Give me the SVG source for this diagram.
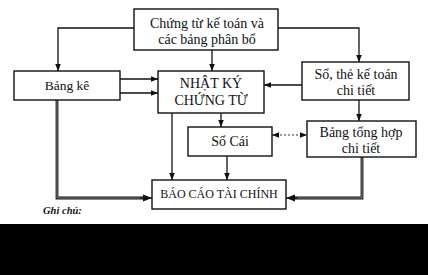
<svg xmlns="http://www.w3.org/2000/svg" width="428" height="275" viewBox="0 0 428 275">
<style>
.box{fill:#fff;stroke:#111;stroke-width:1.4}
.t{font-family:"Liberation Serif","Times New Roman","DejaVu Serif",serif;fill:#111;text-anchor:middle}
.ln{fill:none;stroke:#111;stroke-width:1.3}
.dbl{fill:none;stroke:#111;stroke-width:2.8}
.dbli{fill:none;stroke:#fff;stroke-width:0.5}
.dot{fill:none;stroke:#333;stroke-width:1;stroke-dasharray:2 2}
</style>
<defs>
<marker id="ah" viewBox="0 0 10 10" refX="10" refY="5" markerWidth="7" markerHeight="7" orient="auto-start-reverse" markerUnits="userSpaceOnUse">
<path d="M0,1 L10,5 L0,9 z" fill="#111"/>
</marker>
<marker id="ah2" viewBox="0 0 10 10" refX="10" refY="5" markerWidth="9" markerHeight="9" orient="auto" markerUnits="userSpaceOnUse">
<path d="M0,1 L10,5 L0,9 z" fill="#111"/>
</marker>
</defs>
<rect width="428" height="275" fill="#fff"/>
<g id="connectors">
<polyline class="ln" points="134,28 58,28 58,71" marker-end="url(#ah)"/>
<polyline class="ln" points="278,28 359,28 359,62" marker-end="url(#ah)"/>
<line class="ln" x1="212" y1="50" x2="212" y2="71" marker-end="url(#ah)"/>
<line class="ln" x1="120" y1="79" x2="158" y2="79" marker-end="url(#ah)"/>
<line class="ln" x1="120" y1="93" x2="158" y2="93" stroke-width="1.8" marker-end="url(#ah)"/>
<line class="ln" x1="302" y1="85" x2="264" y2="85" marker-end="url(#ah)"/>
<line class="ln" x1="359" y1="100" x2="359" y2="121" marker-end="url(#ah)"/>
<line class="ln" x1="221" y1="113" x2="221" y2="127" marker-end="url(#ah)"/>
<line class="dot" x1="272" y1="135" x2="307" y2="135" marker-start="url(#ah)" marker-end="url(#ah)"/>
<line class="ln" x1="227" y1="156" x2="227" y2="180" marker-end="url(#ah)"/>
<line class="ln" x1="172" y1="113" x2="172" y2="180" stroke-width="1.8" marker-end="url(#ah)"/>
<polyline class="dbl" points="57,100 57,198 144,198"/>
<polyline class="dbli" points="57,100 57,198 144,198"/>
<line class="ln" x1="140" y1="198" x2="152" y2="198" stroke-width="2" marker-end="url(#ah2)"/>
<polyline class="dbl" points="362,157 362,198 294,198"/>
<polyline class="dbli" points="362,157 362,198 294,198"/>
<line class="ln" x1="298" y1="198" x2="286" y2="198" stroke-width="2" marker-end="url(#ah2)"/>
</g>
<g id="chung-tu">
<rect class="box" x="134" y="9" width="144" height="41"/>
<text class="t" x="207" y="28" font-size="14">Chứng từ kế toán và</text>
<text class="t" x="207" y="44" font-size="14">các bảng phân bổ</text>
</g>
<g id="bang-ke">
<rect class="box" x="14" y="71" width="106" height="29"/>
<text class="t" x="67" y="90" font-size="13.5">Bảng kê</text>
</g>
<g id="nhat-ky">
<rect class="box" x="158" y="71" width="106" height="42"/>
<text class="t" x="211" y="88" font-size="14">NHẬT KÝ</text>
<text class="t" x="211" y="105" font-size="14">CHỨNG TỪ</text>
</g>
<g id="so-the">
<rect class="box" x="302" y="62" width="107" height="38"/>
<text class="t" x="356" y="79" font-size="14">Sổ, thẻ kế toán</text>
<text class="t" x="356" y="95" font-size="14">chi tiết</text>
</g>
<g id="so-cai">
<rect class="box" x="188" y="127" width="84" height="29"/>
<text class="t" x="230" y="146" font-size="14">Sổ Cái</text>
</g>
<g id="bang-tong-hop">
<rect class="box" x="307" y="121" width="109" height="36"/>
<text class="t" x="361" y="137" font-size="14">Bảng tổng hợp</text>
<text class="t" x="361" y="153" font-size="14">chi tiết</text>
</g>
<g id="bao-cao">
<rect class="box" x="152" y="180" width="134" height="29"/>
<text class="t" x="219" y="198" font-size="12">BÁO CÁO TÀI CHÍNH</text>
</g>
<text x="43" y="214" font-family="Liberation Serif, serif" font-size="10.5" font-weight="bold" font-style="italic" fill="#111">Ghi chú:</text>
<rect x="0" y="224" width="428" height="51" fill="#000"/>
</svg>
